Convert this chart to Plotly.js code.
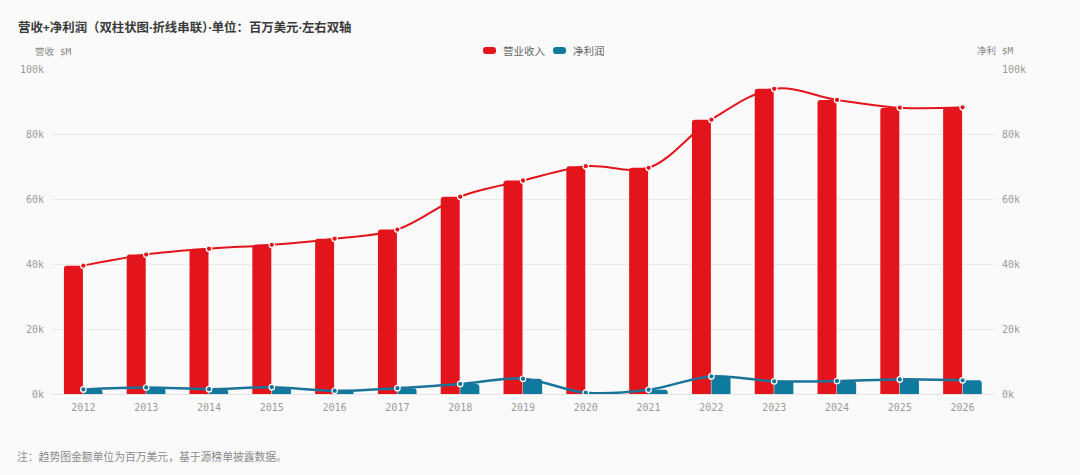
<!DOCTYPE html>
<html>
<head>
<meta charset="utf-8">
<script src="https://cdn.plot.ly/plotly-3.0.1.min.js"></script>
<style>
  html, body { margin: 0; padding: 0; background: #fafafa; }
  #chart { width: 1080px; height: 475px; }
</style>
</head>
<body>
<div id="chart"></div>
<script>
// Data ($M)
const years = ['2012','2013','2014','2015','2016','2017','2018','2019','2020','2021','2022','2023','2024','2025','2026'];
const revenue = [39500, 42900, 44700, 45900, 47800, 50600, 60700, 65700, 70100, 69600, 84400, 93900, 90500, 88100, 88200];
const netProfit = [1400, 2000, 1500, 2100, 1000, 1800, 3100, 4700, 400, 1300, 5400, 3900, 4000, 4500, 4200];
const tickVals = [0, 20000, 40000, 60000, 80000, 100000];
const tickText = ['0k', '20k', '40k', '60k', '80k', '100k'];
const seriesNames = ['营业收入', '净利润'];

const RED = '#e3141b';
const BLUE = '#0e7a9e';
const BLUE_LINE = '#1a7399';

// plot-area geometry (pixels)
const L = 52, R = 86, T = 69, B = 81;
const W = 1080 - L - R, H = 475 - T - B;
const px = x => (x - L) / W;
const py = y => 1 - (y - T) / H;

function roundRect(x0, y0, x1, y1, r) {
  const rx = r / W, ry = r / H;
  const a = px(x0), b = px(x1), c = py(y0), d = py(y1); // c top, d bottom
  return `M ${a + rx} ${c} L ${b - rx} ${c} Q ${b} ${c} ${b} ${c - ry} L ${b} ${d + ry} Q ${b} ${d} ${b - rx} ${d} ` +
         `L ${a + rx} ${d} Q ${a} ${d} ${a} ${d + ry} L ${a} ${c - ry} Q ${a} ${c} ${a + rx} ${c} Z`;
}

const traces = [
  {
    type: 'bar', name: seriesNames[0], x: years, y: revenue, yaxis: 'y',
    marker: { color: RED }, width: 0.302, offset: -0.31,
    showlegend: false
  },
  {
    type: 'scatter', mode: 'lines+markers', x: years, y: revenue, yaxis: 'y',
    line: { color: RED, width: 2, shape: 'spline', smoothing: 1 },
    marker: { color: RED, size: 5.5, line: { color: '#ffffff', width: 1.2 } },
    showlegend: false
  },
  {
    type: 'bar', name: seriesNames[1], x: years, y: netProfit, yaxis: 'y2',
    marker: { color: BLUE }, width: 0.305, offset: 0.0,
    showlegend: false
  },
  {
    type: 'scatter', mode: 'lines+markers', x: years, y: netProfit, yaxis: 'y2',
    line: { color: BLUE_LINE, width: 2.5, shape: 'spline', smoothing: 1 },
    marker: { color: BLUE_LINE, size: 5.5, line: { color: '#ffffff', width: 1.2 } },
    showlegend: false
  }
];

const tickFont = { family: 'DejaVu Sans Mono, monospace', size: 10, color: '#9a9a9a' };
const cjk = 'Noto Sans, Noto Sans CJK SC, sans-serif';
const monoCjk = 'DejaVu Sans Mono, Noto Sans CJK SC, monospace';

const layout = {
  width: 1080, height: 475,
  paper_bgcolor: '#fafafa', plot_bgcolor: '#fafafa',
  margin: { l: L, r: R, t: T, b: B, autoexpand: false },
  barmode: 'overlay',
  barcornerradius: 3,
  font: { family: cjk },
  title: {
    text: '营收+净利润（双柱状图·折线串联）·单位：百万美元·左右双轴',
    font: { family: cjk, size: 12.4, color: '#3a3a3a', weight: 'bold' },
    xref: 'container', yref: 'container', x: 18/1080, xanchor: 'left',
    y: 1 - 27.5/475, yanchor: 'middle', automargin: false
  },
  showlegend: false,
  xaxis: {
    type: 'category', range: [-0.5, 14.5], tickangle: 0, automargin: false,
    showgrid: false, zeroline: false, showline: false,
    ticks: '', tickfont: tickFont, ticklabelstandoff: 6
  },
  yaxis: {
    range: [0, 100000], tickvals: tickVals, ticktext: tickText, automargin: false,
    showgrid: true, gridcolor: '#ebebeb', gridwidth: 1,
    zeroline: true, zerolinecolor: '#e2e2e2', zerolinewidth: 1,
    showline: false, ticks: '', tickfont: tickFont, ticklabelstandoff: 7
  },
  yaxis2: {
    range: [0, 100000], tickvals: tickVals, ticktext: tickText, automargin: false,
    overlaying: 'y', side: 'right', showgrid: false, zeroline: false,
    showline: false, ticks: '', tickfont: tickFont, ticklabelstandoff: 7
  },
  shapes: [
    { type: 'path', xref: 'paper', yref: 'paper', path: roundRect(483, 47, 496, 54, 3), fillcolor: RED, line: { width: 0 } },
    { type: 'path', xref: 'paper', yref: 'paper', path: roundRect(553, 47, 566, 54, 3), fillcolor: BLUE, line: { width: 0 } }
  ],
  annotations: [
    {
      text: seriesNames[0], xref: 'paper', yref: 'paper', x: px(500.5), xanchor: 'left', y: py(50.5), yanchor: 'middle',
      showarrow: false, font: { family: cjk, size: 10.5, color: '#666' }
    },
    {
      text: seriesNames[1], xref: 'paper', yref: 'paper', x: px(570.5), xanchor: 'left', y: py(50.5), yanchor: 'middle',
      showarrow: false, font: { family: cjk, size: 10.5, color: '#666' }
    },
    {
      text: '营收 $M', xref: 'paper', yref: 'paper',
      x: px(52.5), xanchor: 'center', y: py(51), yanchor: 'middle',
      showarrow: false, font: { family: monoCjk, size: 9.5, color: '#888' }
    },
    {
      text: '净利 $M', xref: 'paper', yref: 'paper',
      x: px(994.5), xanchor: 'center', y: py(50.5), yanchor: 'middle',
      showarrow: false, font: { family: monoCjk, size: 9.5, color: '#888' }
    },
    {
      text: '注：趋势图金额单位为百万美元，基于源榜单披露数据。', xref: 'paper', yref: 'paper',
      x: px(14.5), xanchor: 'left', y: py(456), yanchor: 'middle',
      showarrow: false, font: { family: cjk, size: 10.8, color: '#8a8a8a' }
    }
  ]
};

Plotly.newPlot('chart', traces, layout, { displayModeBar: false, staticPlot: true });
</script>
</body>
</html>
